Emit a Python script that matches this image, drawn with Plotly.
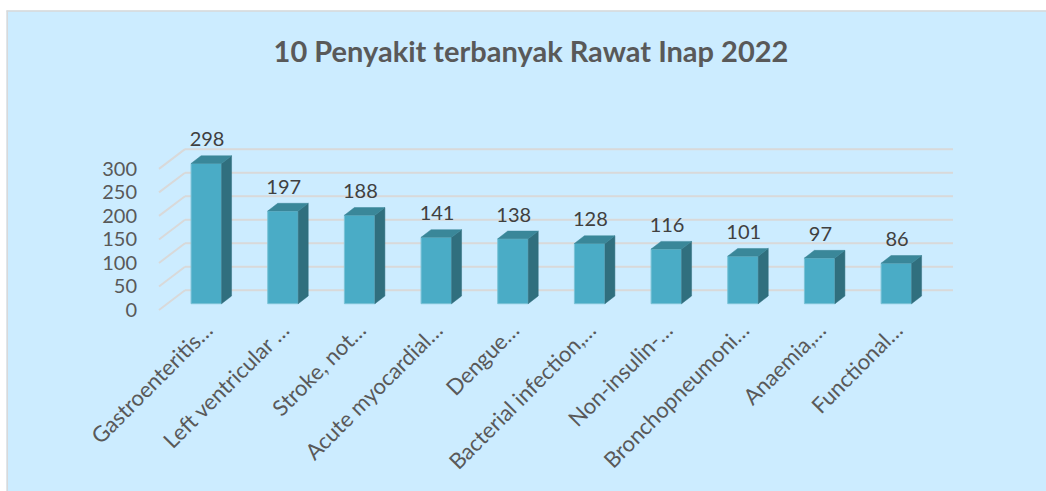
import plotly.graph_objects as go

# ---- data ----
categories = ["Gastroenteritis…", "Left ventricular …", "Stroke, not…", "Acute myocardial…",
              "Dengue…", "Bacterial infection,…", "Non-insulin-…", "Bronchopneumoni…",
              "Anaemia,…", "Functional…"]
values = [298, 197, 188, 141, 138, 128, 116, 101, 97, 86]
y_ticks = [0, 50, 100, 150, 200, 250, 300]
title_text = "10 Penyakit terbanyak Rawat Inap 2022"

# ---- geometry (pixels) ----
FIG_W, FIG_H = 1046, 491
PL, PR = 150, 965          # plot area x
PT, PB = 100, 320          # plot area y
H = PB - PT
W = PR - PL
K = 0.4705                 # px per unit
SPAN = H / K
STEP = 76.67               # px between categories
FIRST = 206.3              # px centre of first bar
x0 = -(FIRST - PL) / STEP
x1 = x0 + W / STEP

def px2x(p):
    return x0 + (p - PL) / STEP

BAR_ZERO = 303.7
LAB_ZERO = 310.0
GRID_ZERO = 290.3
r_bar = -(PB - BAR_ZERO) / K
r_lab = -(PB - LAB_ZERO) / K
BACK = (BAR_ZERO - GRID_ZERO) / K     # back wall shift (units)
FRONTL = (LAB_ZERO - BAR_ZERO) / K    # front-left edge shift (units)

BW = 30.5 / STEP
DX = 10.0 / STEP
DY = 7.7 / K

xs = list(range(len(values)))

FRONT = "#4AACC6"
TOP = "#3A8799"
SIDE = "#306F7E"
TXT = "#595959"
GRID = "#D9D9D9"
FONT = "Lato"

fig = go.Figure()

# bars: front, side, top faces
sx, sy, tx, ty = [], [], [], []
for x, v in zip(xs, values):
    r = x + BW / 2
    l = x - BW / 2
    sx += [r, r, r + DX, r + DX, r, None]
    sy += [0, v, v + DY, DY, 0, None]
    tx += [l, r, r + DX, l + DX, l, None]
    ty += [v, v, v + DY, v + DY, v, None]

fig.add_trace(go.Bar(x=xs, y=values, width=BW, marker=dict(color=FRONT, line=dict(color="#7CC3D7", width=1)),
                     hoverinfo="skip"))
fig.add_trace(go.Scatter(x=sx, y=sy, fill="toself", fillcolor=SIDE, mode="lines",
                         line=dict(color=SIDE, width=0.5), hoverinfo="skip"))
fig.add_trace(go.Scatter(x=tx, y=ty, fill="toself", fillcolor=TOP, mode="lines",
                         line=dict(color=TOP, width=0.5), hoverinfo="skip"))

# data labels
LBL_OFF = 22.0 / K
fig.add_trace(go.Scatter(x=[x + 0.01 for x in xs], y=[v + LBL_OFF for v in values],
                         text=[str(v) for v in values], mode="text",
                         textfont=dict(family=FONT, size=20, color="#404040"),
                         cliponaxis=False, hoverinfo="skip"))

# label axis carrier
fig.add_trace(go.Scatter(x=[None], y=[None], yaxis="y2", hoverinfo="skip"))

# background pieces (paper coords)
def px2paperx(p):
    return (p - PL) / W

def py2papery(p):
    return (PB - p) / H

shapes = [
    dict(type="rect", xref="paper", yref="paper", x0=px2paperx(-2), x1=px2paperx(FIG_W + 2),
         y0=py2papery(10.5), y1=py2papery(-2), fillcolor="white", line=dict(width=0), layer="below"),
    dict(type="rect", xref="paper", yref="paper", x0=px2paperx(-2), x1=px2paperx(6.5),
         y0=py2papery(FIG_H + 2), y1=py2papery(-2), fillcolor="white", line=dict(width=0), layer="below"),
    dict(type="line", xref="paper", yref="paper", x0=px2paperx(6.5), x1=px2paperx(FIG_W + 2),
         y0=py2papery(11), y1=py2papery(11), line=dict(color="#D9D9D9", width=1.5), layer="below"),
    dict(type="line", xref="paper", yref="paper", x0=px2paperx(7.2), x1=px2paperx(7.2),
         y0=py2papery(10.5), y1=py2papery(FIG_H + 2), line=dict(color="#D9D9D9", width=1.5), layer="below"),
]

# back-wall gridlines and side-wall diagonals, from the tick values
for t in y_ticks:
    shapes.append(dict(type="line", xref="x", yref="y", x0=px2x(185), x1=px2x(953),
                       y0=t + BACK, y1=t + BACK, line=dict(color=GRID, width=2), layer="below"))
    shapes.append(dict(type="line", xref="x", yref="y", x0=px2x(159), x1=px2x(185),
                       y0=t - FRONTL, y1=t + BACK, line=dict(color=GRID, width=2), layer="below"))

fig.update_layout(
    width=FIG_W, height=FIG_H,
    margin=dict(l=PL, r=FIG_W - PR, t=PT, b=FIG_H - PB, pad=0),
    paper_bgcolor="#CCECFF", plot_bgcolor="rgba(0,0,0,0)",
    showlegend=False,
    title=dict(text=title_text, x=531 / FIG_W, xanchor="center", y=1 - 52 / FIG_H, yanchor="middle",
               font=dict(family=FONT, size=29, color=TXT, weight="bold")),
    xaxis=dict(range=[x0, x1], tickmode="array", tickvals=xs, ticktext=categories, tickangle=-45,
               tickfont=dict(family=FONT, size=22, color=TXT), showgrid=False, zeroline=False,
               showline=False, ticks="", ticklabelstandoff=-8),
    yaxis=dict(range=[r_bar, r_bar + SPAN], showgrid=False, zeroline=False, showticklabels=False,
               ticks=""),
    yaxis2=dict(range=[r_lab, r_lab + SPAN], overlaying="y", side="left", tickmode="array",
                tickvals=y_ticks, showgrid=False, zeroline=False,
                tickfont=dict(family=FONT, size=20, color=TXT), ticks="", ticklabelstandoff=12),
    shapes=shapes,
)

fig.write_html("out.html", post_script="document.body.style.margin='0px';",
               config={"displayModeBar": False})
